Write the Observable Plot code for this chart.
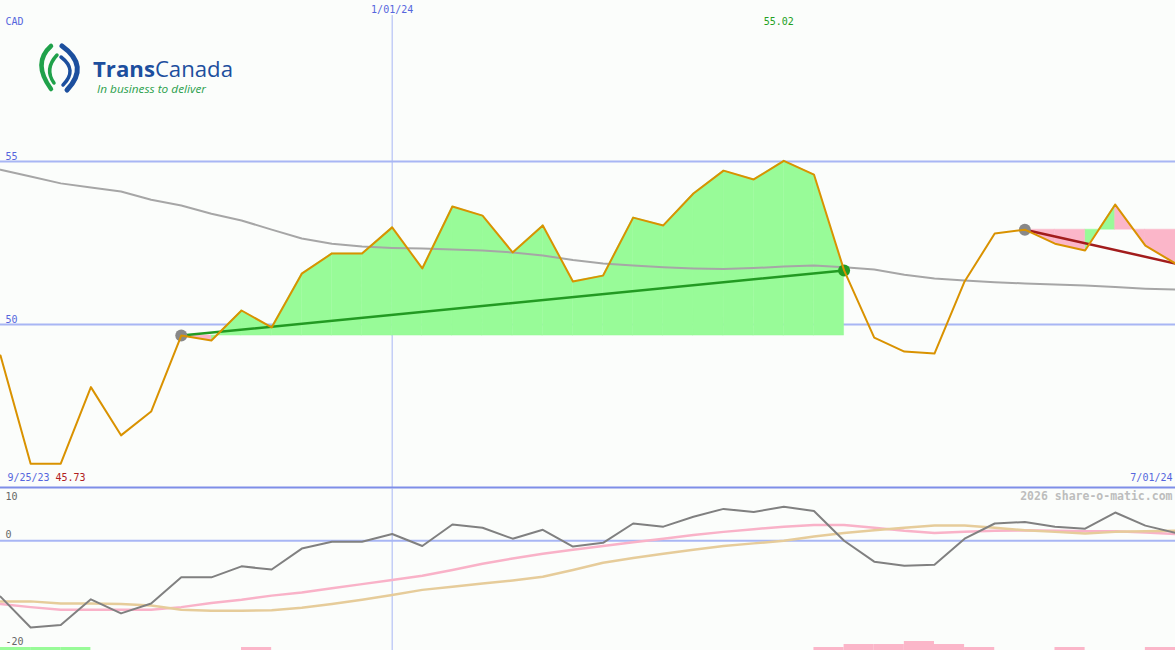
<!DOCTYPE html>
<html><head><meta charset="utf-8">
<script src="https://cdn.jsdelivr.net/npm/d3@7"></script>
<script src="https://cdn.jsdelivr.net/npm/@observablehq/plot@0.6"></script>
<style>
html,body{margin:0;padding:0;background:#fbfdfb;}
#chart{position:relative;width:1175px;height:650px;background:#fbfdfb;overflow:hidden;}
#chart > svg{position:absolute;left:0;}
</style></head><body><div id="chart"></div>
<script>
// ---- data ----
const dates = ["2023-10-02","2023-10-09","2023-10-16","2023-10-23","2023-10-30","2023-11-06","2023-11-13","2023-11-20","2023-11-27","2023-12-04",
"2023-12-11","2023-12-18","2023-12-25","2024-01-01","2024-01-08","2024-01-15","2024-01-22","2024-01-29","2024-02-05","2024-02-12",
"2024-02-19","2024-02-26","2024-03-04","2024-03-11","2024-03-18","2024-03-25","2024-04-01","2024-04-08","2024-04-15","2024-04-22",
"2024-04-29","2024-05-06","2024-05-13","2024-05-20","2024-05-27","2024-06-03","2024-06-10","2024-06-17","2024-06-24","2024-07-01"];
const price = [49.05,45.73,45.73,48.08,46.60,47.33,49.66,49.51,50.43,49.91,
51.56,52.18,52.18,52.98,51.72,53.62,53.34,52.21,53.04,51.32,
51.50,53.28,53.04,54.02,54.72,54.45,55.02,54.60,51.66,49.60,
49.17,49.11,51.32,52.79,52.91,52.48,52.27,53.68,52.42,51.87];
const movingAvg = [54.75,54.54,54.33,54.20,54.08,53.83,53.65,53.40,53.19,52.91,
52.64,52.48,52.39,52.35,52.33,52.30,52.27,52.21,52.12,51.98,
51.87,51.81,51.76,51.72,51.70,51.73,51.78,51.81,51.76,51.69,
51.53,51.41,51.35,51.30,51.26,51.23,51.20,51.15,51.10,51.07];
const momentum = [-10.7,-16.6,-16.1,-11.2,-13.9,-12.0,-7.0,-7.0,-4.9,-5.5,
-1.5,-0.2,-0.2,1.3,-1.0,3.1,2.5,0.4,2.1,-1.1,
-0.4,3.3,2.7,4.6,6.1,5.5,6.5,5.7,0.0,-4.0,
-4.8,-4.6,0.4,3.3,3.6,2.7,2.3,5.4,2.9,1.5];
const signalPink = [-12.1,-12.7,-13.2,-13.2,-13.2,-13.2,-12.7,-11.9,-11.3,-10.5,
-9.9,-9.1,-8.3,-7.5,-6.7,-5.6,-4.4,-3.4,-2.5,-1.7,
-1.0,-0.3,0.4,1.1,1.7,2.2,2.7,3.0,3.0,2.5,
1.9,1.5,1.7,1.9,2.0,1.9,1.8,1.8,1.6,1.3];
const signalTan = [-11.6,-11.6,-12.0,-12.0,-12.1,-12.4,-13.2,-13.4,-13.4,-13.3,
-12.8,-12.1,-11.3,-10.4,-9.4,-8.8,-8.2,-7.6,-6.9,-5.6,
-4.2,-3.3,-2.5,-1.7,-1.0,-0.5,0.0,0.8,1.5,2.0,
2.5,2.9,2.9,2.5,2.0,1.7,1.4,1.7,1.8,1.9];
// signed level per weekly interval (positive = green, negative = pink)
const intervalBars = [1,1,1,0,0,0,0,0,-1,0,
0,0,0,0,0,0,0,0,0,0,
0,0,0,0,0,0,0,-1,-2,-2,
-3,-2,-1,0,0,-1,0,0,-1];
const trends = [{start: 6, end: 28, color: "#229a22"}, {start: 34, end: 39, color: "#a21c1c"}];
const monthMarks = ["2024-01-01"];
const priceTicks = [55, 50];

// ---- build ----
const D = dates.map(s => new Date(s));
const months = monthMarks.map(s => new Date(s));
const xDomain = [D[0], D[D.length - 1]];
const W = 1175;
const GREEN = "#98fb98", PINK = "#fbb6c9", BLUE_T = "#5566dd", GRID = "#a8b6f4";

const rows = D.map((d, i) => ({date: d, price: price[i], ma: movingAvg[i], mom: momentum[i], sp: signalPink[i], st: signalTan[i]}));

const fillSegs = [];
const trendLines = [];
const startDots = [];
const endDots = [];
for (const t of trends) {
  const base = price[t.start];
  for (let i = t.start; i < t.end; i++) {
    const up = price[i + 1] >= base;
    fillSegs.push({date: D[i], v: price[i], base, seg: i, up}, {date: D[i + 1], v: price[i + 1], base, seg: i, up});
  }
  trendLines.push({date: D[t.start], v: price[t.start], k: t.start, color: t.color}, {date: D[t.end], v: price[t.end], k: t.start, color: t.color});
  startDots.push({date: D[t.start], v: price[t.start]});
  if (t.end < D.length - 1) endDots.push({date: D[t.end], v: price[t.end], color: t.color});
}

const font = {background: "transparent", fontFamily: "DejaVu Sans Mono, monospace", fontSize: "10px", overflow: "visible"};
const M = "middle";

const topPlot = Plot.plot({
  width: W, height: 488, marginTop: 0, marginBottom: 1, marginLeft: 0, marginRight: 0,
  style: font,
  x: {type: "utc", domain: xDomain, axis: null},
  y: {domain: [45, 59.94], axis: null},
  marks: [
    Plot.ruleY(priceTicks, {stroke: GRID, strokeWidth: 2}),
    Plot.ruleX(months, {stroke: GRID, strokeWidth: 1, insetTop: 15}),
    Plot.areaY(fillSegs.filter(d => d.up), {x: "date", y1: "base", y2: "v", z: "seg", fill: GREEN, stroke: GREEN, strokeWidth: 0.5, curve: "linear"}),
    Plot.areaY(fillSegs.filter(d => !d.up), {x: "date", y1: "base", y2: "v", z: "seg", fill: PINK, stroke: PINK, strokeWidth: 0.5, curve: "linear"}),
    Plot.line(rows, {x: "date", y: "ma", stroke: "#a6a6a6", strokeWidth: 2}),
    Plot.line(trendLines.filter(d => d.k === trends[0].start), {x: "date", y: "v", stroke: trends[0].color, strokeWidth: 2.5}),
    Plot.line(trendLines.filter(d => d.k === trends[1].start), {x: "date", y: "v", stroke: trends[1].color, strokeWidth: 2.5}),
    Plot.dot(startDots, {x: "date", y: "v", r: 6, fill: "#888888"}),
    Plot.dot(endDots, {x: "date", y: "v", r: 6, fill: "#229a22"}),
    Plot.line(rows, {x: "date", y: "price", stroke: "#d99200", strokeWidth: 2}),
    Plot.ruleY([45], {stroke: "#7e8ee8", strokeWidth: 2}),
    Plot.text(["CAD"], {frameAnchor: "top-left", textAnchor: "start", lineAnchor: M, dx: 5, dy: 21, fill: BLUE_T}),
    Plot.text(months, {x: d => d, frameAnchor: "top", lineAnchor: M, dy: 9, text: () => "1/01/24", fill: BLUE_T}),
    Plot.text([rows[d3.maxIndex(price)]], {x: "date", frameAnchor: "top", lineAnchor: M, dx: -5, dy: 21, text: d => d.price.toFixed(2), fill: "#22a022"}),
    Plot.text(priceTicks, {y: d => d, frameAnchor: "left", textAnchor: "start", lineAnchor: M, dx: 5, dy: -5, text: d => String(d), fill: BLUE_T}),
    Plot.text(["9/25/23"], {frameAnchor: "bottom-left", textAnchor: "start", lineAnchor: M, dx: 7, dy: -10, fill: BLUE_T}),
    Plot.text([d3.min(price)], {frameAnchor: "bottom-left", textAnchor: "start", lineAnchor: M, dx: 55, dy: -10, text: d => d.toFixed(2), fill: "#b02020"}),
    Plot.text(["7/01/24"], {frameAnchor: "bottom-right", textAnchor: "end", lineAnchor: M, dx: -3, dy: -10, fill: BLUE_T})
  ]
});
topPlot.style.top = "0px";

const bottomPlot = Plot.plot({
  width: W, height: 162, marginTop: 0, marginBottom: 0, marginLeft: 0, marginRight: 0,
  style: font,
  x: {type: "utc", domain: xDomain, axis: null},
  y: {domain: [-21, 10], axis: null},
  marks: [
    Plot.ruleY([0], {stroke: GRID, strokeWidth: 2}),
    Plot.ruleX(months, {stroke: GRID, strokeWidth: 1}),
    Plot.line(rows, {x: "date", y: "sp", stroke: "#f9b2c8", strokeWidth: 2.5}),
    Plot.line(rows, {x: "date", y: "st", stroke: "#e6cc9a", strokeWidth: 2.5}),
    Plot.line(rows, {x: "date", y: "mom", stroke: "#808080", strokeWidth: 2}),
    Plot.text(["2026 share-o-matic.com"], {frameAnchor: "top-right", textAnchor: "end", lineAnchor: M, dx: -3, dy: 8, fill: "#bdbdbd", fontWeight: "bold", fontSize: 11.5}),
    Plot.text(["10"], {frameAnchor: "top-left", textAnchor: "start", lineAnchor: M, dx: 5, dy: 8, fill: "#666666"}),
    Plot.text([0], {y: d => d, frameAnchor: "left", textAnchor: "start", lineAnchor: M, dx: 5, dy: -6, text: d => String(d), fill: "#666666"}),
    Plot.text([-20], {y: d => d, frameAnchor: "left", textAnchor: "start", lineAnchor: M, dx: 5, dy: -3, text: d => String(d), fill: "#666666"})
  ]
});
bottomPlot.style.top = "488px";

const barRows = intervalBars.map((lv, i) => ({x1: D[i], x2: D[i + 1], h: Math.abs(lv), up: lv > 0})).filter(d => d.h > 0);
const barsPlot = Plot.plot({
  width: W, height: 9, marginTop: 0, marginBottom: 0, marginLeft: 0, marginRight: 0,
  style: font,
  x: {type: "utc", domain: xDomain, axis: null},
  y: {domain: [0, 3], axis: null},
  marks: [
    Plot.rectY(barRows.filter(d => d.up), {x1: "x1", x2: "x2", y1: 0, y2: "h", fill: GREEN}),
    Plot.rectY(barRows.filter(d => !d.up), {x1: "x1", x2: "x2", y1: 0, y2: "h", fill: PINK})
  ]
});
barsPlot.style.top = "641px";

const chart = document.getElementById("chart");
chart.append(topPlot, bottomPlot, barsPlot);

// logo (decorative)
const ns = "http://www.w3.org/2000/svg";
const logo = document.createElementNS(ns, "svg");
logo.setAttribute("width", 260); logo.setAttribute("height", 110);
logo.style.position = "absolute"; logo.style.left = "0px"; logo.style.top = "0px";
logo.innerHTML = `
  <path d="M51,46 Q32,63 51,89" fill="none" stroke="#1fa14a" stroke-width="4.5" stroke-linecap="round"/>
  <path d="M57,55 Q44,69 54,83" fill="none" stroke="#1fa14a" stroke-width="3.5" stroke-linecap="round"/>
  <path d="M62,46 Q90,66 67,90" fill="none" stroke="#1c4f9e" stroke-width="5" stroke-linecap="round"/>
  <path d="M61,57 Q78,70 63,85" fill="none" stroke="#1c4f9e" stroke-width="3.5" stroke-linecap="round"/>
  <text x="93" y="77" font-family="Open Sans, sans-serif" font-size="22" fill="#1d4f9e" textLength="140" lengthAdjust="spacingAndGlyphs"><tspan font-weight="700">Trans</tspan><tspan font-weight="500">Canada</tspan></text>
  <text x="97" y="93" font-family="Open Sans, sans-serif" font-style="italic" font-size="11" fill="#2a9f4c" textLength="109" lengthAdjust="spacingAndGlyphs">In business to deliver</text>`;
chart.append(logo);
</script></body></html>
